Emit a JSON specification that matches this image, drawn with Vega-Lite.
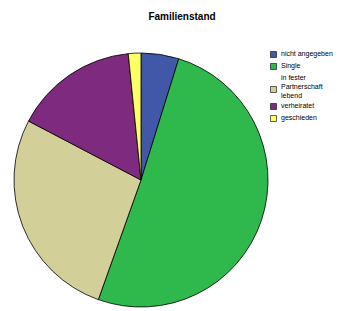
{
  "$schema": "https://vega.github.io/schema/vega-lite/v6.json",
  "width": 282,
  "height": 250,
  "autosize": "none",
  "padding": {"top": 55, "left": 0, "right": 59, "bottom": 6},
  "background": "white",
  "title": {"text": "Familienstand", "font": "Liberation Sans", "fontSize": 10, "fontWeight": "bold", "color": "#000000", "dx": 41, "dy": -24},
  "data": {"values": [
    {"status": "nicht angegeben", "pct": 4.8, "order": 1},
    {"status": "Single", "pct": 50.6, "order": 2},
    {"status": "in fester Partnerschaft lebend", "pct": 27.2, "order": 3},
    {"status": "verheiratet", "pct": 15.7, "order": 4},
    {"status": "geschieden", "pct": 1.6, "order": 5}
  ]},
  "mark": {"type": "arc", "radius": 127, "stroke": "#000000", "strokeWidth": 0.8},
  "encoding": {
    "theta": {"field": "pct", "type": "quantitative", "stack": true},
    "order": {"field": "order", "type": "quantitative"},
    "color": {
      "field": "status", "type": "nominal",
      "scale": {
        "domain": ["nicht angegeben", "Single", "in fester Partnerschaft lebend", "verheiratet", "geschieden"],
        "range": ["#4157a8", "#2fb84b", "#d3cf98", "#7d2a7f", "#ffff66"]
      },
      "legend": {
        "title": null,
        "orient": "none",
        "legendX": 270,
        "legendY": -5,
        "symbolType": "square",
        "symbolSize": 36,
        "symbolStrokeColor": "#000000",
        "symbolStrokeWidth": 0.6,
        "labelFont": "Liberation Sans",
        "labelFontSize": 7,
        "labelColor": "#000000",
        "labelOffset": 4,
        "rowPadding": 2,
        "labelExpr": "datum.label == 'in fester Partnerschaft lebend' ? ['in fester', 'Partnerschaft', 'lebend'] : datum.label",
        "encode": {
          "symbols": {
            "update": {
              "yc": {"signal": "datum.value == 'in fester Partnerschaft lebend' ? 15.5 : 4.5"}
            }
          }
        }
      }
    }
  },
  "config": {"view": {"stroke": null}}
}
